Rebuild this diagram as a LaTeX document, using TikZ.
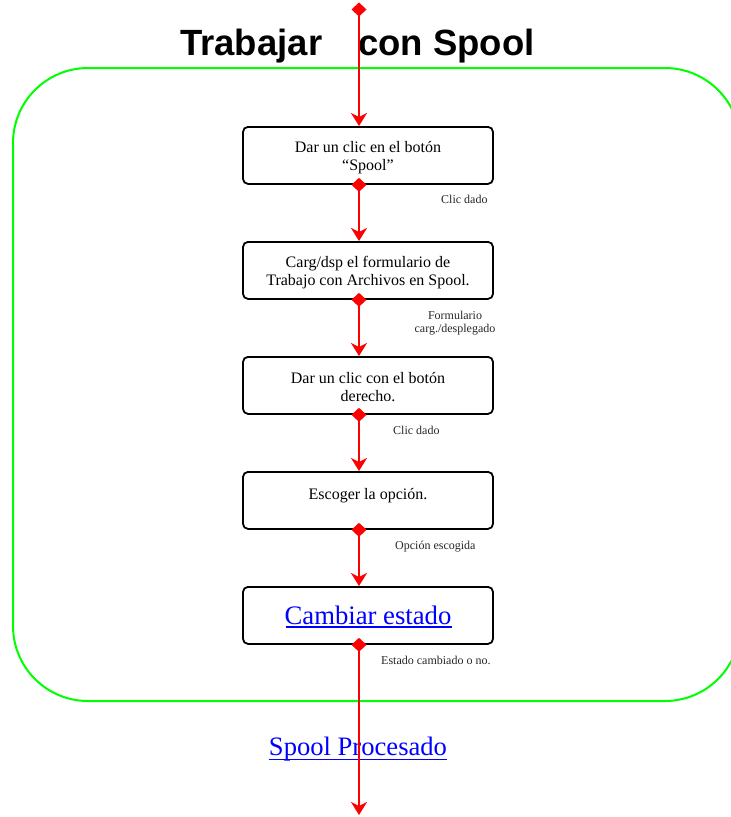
\documentclass[tikz,border=0pt]{standalone}
\usepackage{fontspec}
\setmainfont{Liberation Serif}
\newfontfamily\titlefont{Liberation Sans}
\usetikzlibrary{arrows.meta}

% step box text: fixed-size box, text starting near the top
\newcommand\steptext[3]{\parbox[c][57pt][t]{250pt}{\centering\fontsize{#1}{17.5}\selectfont\rule{0pt}{#2}#3}}

\definecolor{frame}{RGB}{0,255,0}
\definecolor{flowred}{RGB}{255,0,0}
\definecolor{linkblue}{RGB}{0,0,255}

\begin{document}
\begin{tikzpicture}[x=1pt,y=-1pt,
  stepbox/.style={draw=black, line width=1.8pt, rounded corners=5pt,
    inner sep=0pt, anchor=north},
  flow/.style={draw=flowred, line width=2.4pt,
    {Diamond[length=14pt,width=15pt]}-{Stealth[length=13pt,width=16pt,inset=4pt]},
    shorten <=-7pt},
  note/.style={font=\fontsize{12}{13}\selectfont, inner sep=0pt, text=black!85},
  link/.style={text=linkblue, inner sep=0pt, anchor=base,
    font=\fontsize{26.6}{30}\selectfont},
  uline/.style={draw=linkblue, line width=1.4pt}]

  \useasboundingbox (0,0) rectangle (731,817);
  \clip (0,0) rectangle (731,817);

  % swimlane frame
  \draw[frame, line width=2pt, rounded corners=75pt] (13,68) rectangle (740,701);

  % title
  \node[anchor=base west, inner sep=0pt, font=\titlefont\bfseries\fontsize{36.5}{40}\selectfont]
    (t1) at (180,55) {Trabajar};
  \node[anchor=base west, inner sep=0pt, font=\titlefont\bfseries\fontsize{36.5}{40}\selectfont]
    (t2) at (358,55) {con Spool};

  % flow end points
  \coordinate (src) at (359,9.5);
  \coordinate (sink) at (359,815);

  % steps
  \node[stepbox] (b1) at (368,126) {\steptext{16}{25.7pt}{Dar un clic en el botón\\“Spool”}};
  \node[stepbox] (b2) at (368,241) {\steptext{16}{25.7pt}{Carg/dsp el formulario de\\Trabajo con Archivos en Spool.}};
  \node[stepbox] (b3) at (368,356) {\steptext{16}{27pt}{Dar un clic con el botón\\derecho.}};
  \node[stepbox] (b4) at (368,471) {\steptext{16}{27.5pt}{Escoger la opción.}};
  \node[stepbox] (b5) at (368,586) {\steptext{16}{38pt}{\fontsize{26.7}{30}\selectfont\textcolor{linkblue}{Cambiar estado}}};
  \draw[uline] (286,627) -- (452,627);

  % outcome
  \node[link] (out) at (358,755) {Spool Procesado};
  \draw[uline] (out.base west) ++(0,4.5) -- ([yshift=-4.5pt]out.base east);

  % labels
  \node[note, anchor=base west] (l1) at (441,203) {Clic dado};
  \node[note, anchor=north, align=center] (l2) at (455,310.5) {Formulario\\carg./desplegado};
  \node[note, anchor=base west] (l3) at (393,434) {Clic dado};
  \node[note, anchor=base west] (l4) at (395,549) {Opción escogida};
  \node[note, anchor=base west] (l5) at (381,664) {Estado cambiado o no.};

  % connectors
  \draw[flow] (src) -- (b1.north -| src);
  \draw[flow] (b1.south -| src) -- (b2.north -| src);
  \draw[flow] (b2.south -| src) -- (b3.north -| src);
  \draw[flow] (b3.south -| src) -- (b4.north -| src);
  \draw[flow] (b4.south -| src) -- (b5.north -| src);
  \draw[flow] (b5.south -| src) -- (sink);
\end{tikzpicture}
\end{document}
